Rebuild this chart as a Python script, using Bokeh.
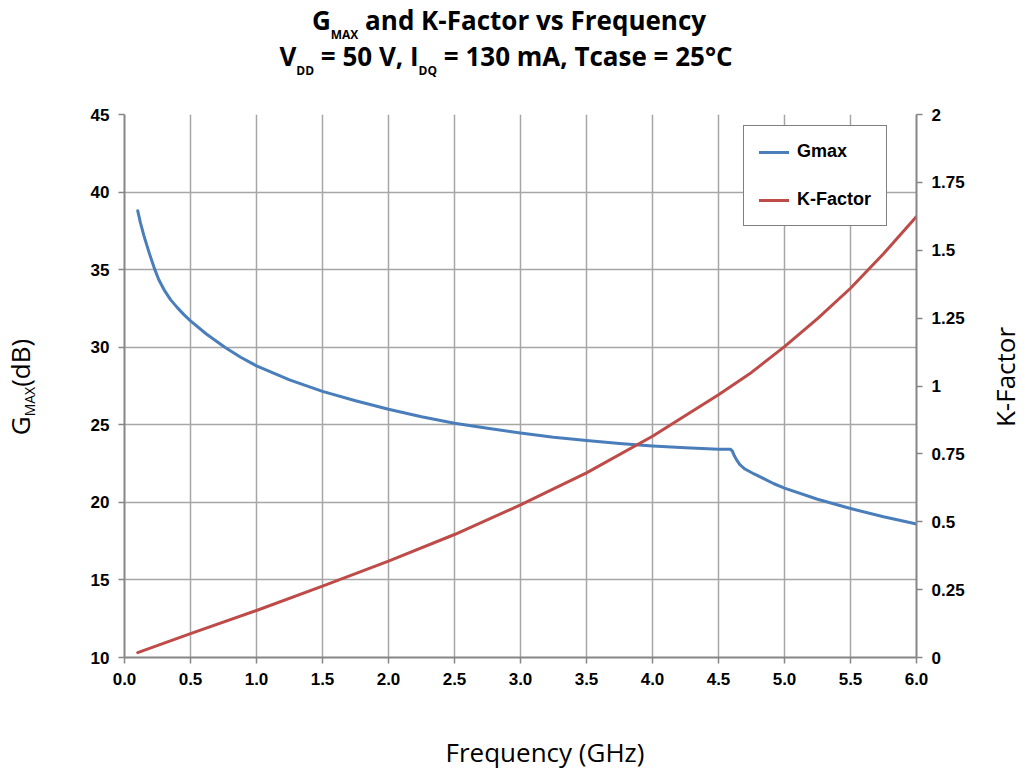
from bokeh.plotting import figure
from bokeh.layouts import column, row
from bokeh.models import (Range1d, LinearAxis, FixedTicker, Legend, LegendItem, Div)
from bokeh.embed import file_html
from bokeh.resources import INLINE

# ---------------- data ----------------
FREQ_G = [0.10, 0.12, 0.15, 0.19, 0.23, 0.26, 0.30, 0.35, 0.40, 0.45, 0.50, 0.62, 0.76,
          0.88, 1.00, 1.25, 1.50, 1.75, 2.00, 2.25, 2.50, 2.75, 3.00, 3.25, 3.50, 3.75,
          4.00, 4.25, 4.50, 4.59, 4.605, 4.62, 4.64, 4.66, 4.70, 4.77, 4.85, 4.92, 5.00,
          5.25, 5.50, 5.75, 6.00]
GMAX = [38.8, 38.05, 37.1, 36.0, 35.0, 34.35, 33.7, 33.05, 32.55, 32.1, 31.7, 30.85, 30.0,
        29.35, 28.8, 27.9, 27.15, 26.55, 26.0, 25.52, 25.1, 24.77, 24.47, 24.2, 23.98, 23.8,
        23.64, 23.52, 23.42, 23.43, 23.3, 23.0, 22.7, 22.45, 22.15, 21.83, 21.5, 21.2, 20.92,
        20.2, 19.6, 19.07, 18.6]

FREQ_K = [0.10, 0.50, 1.00, 1.50, 2.00, 2.50, 3.00, 3.50, 4.00, 4.50, 4.75, 5.00, 5.25,
          5.50, 5.75, 6.00]
KFACT = [0.018, 0.088, 0.173, 0.263, 0.355, 0.453, 0.562, 0.680, 0.815, 0.968, 1.050, 1.145,
         1.248, 1.360, 1.487, 1.624]

X_TICKS = [0.0, 0.5, 1.0, 1.5, 2.0, 2.5, 3.0, 3.5, 4.0, 4.5, 5.0, 5.5, 6.0]
X_TICK_LABELS = ["0.0", "0.5", "1.0", "1.5", "2.0", "2.5", "3.0", "3.5", "4.0", "4.5",
                 "5.0", "5.5", "6.0"]
G_TICKS = [10, 15, 20, 25, 30, 35, 40, 45]
K_TICKS = [0, 0.25, 0.5, 0.75, 1.0, 1.25, 1.5, 1.75, 2.0]
K_TICK_LABELS = ["0", "0.25", "0.5", "0.75", "1", "1.25", "1.5", "1.75", "2"]

SERIES_NAMES = ["Gmax", "K-Factor"]

# ---------------- layout sizes ----------------
TOTAL_W, TOTAL_H = 1016, 766
TITLE_H = 90
LEFT_W, RIGHT_W = 40, 30
BL, BR, BT, BB = 84, 70, 24, 40          # plot borders
FRAME_W, FRAME_H = 792, 543
PLOT_W = BL + FRAME_W + BR
PLOT_H = BT + FRAME_H + BB
XLAB_H = TOTAL_H - TITLE_H - PLOT_H

BLUE = "#4a7ebb"
RED = "#be4b48"
GRID = "#a6a6a6"
AXIS = "#868686"
TICK_FONT = "Liberation Sans"
TEXT_FONT = "'Open Sans'"

p = figure(frame_width=FRAME_W, frame_height=FRAME_H,
           min_border_left=BL, min_border_right=BR, min_border_top=BT, min_border_bottom=BB,
           x_range=Range1d(0, 6), y_range=Range1d(10, 45),
           output_backend="svg", toolbar_location=None, tools="", margin=0)
p.outline_line_color = None
p.background_fill_color = "white"
p.border_fill_color = "white"
p.extra_y_ranges = {"k": Range1d(0, 2)}

def style_axis(ax):
    ax.axis_line_color = AXIS
    ax.axis_line_width = 2
    ax.major_tick_line_color = AXIS
    ax.major_tick_line_width = 1.5
    ax.major_tick_out = 6
    ax.major_tick_in = 0
    ax.minor_tick_line_color = None
    ax.major_label_text_font = TICK_FONT
    ax.major_label_text_font_style = "bold"
    ax.major_label_text_font_size = "17px"
    ax.major_label_text_color = "black"
    ax.major_label_standoff = 9

xa = p.xaxis[0]
xa.ticker = FixedTicker(ticks=X_TICKS)
xa.major_label_overrides = {t: l for t, l in zip(X_TICKS, X_TICK_LABELS)}
style_axis(xa)

ya = p.yaxis[0]
ya.ticker = FixedTicker(ticks=G_TICKS)
style_axis(ya)

ra = LinearAxis(y_range_name="k", ticker=FixedTicker(ticks=K_TICKS))
ra.major_label_overrides = {t: l for t, l in zip(K_TICKS, K_TICK_LABELS)}
style_axis(ra)
p.add_layout(ra, "right")

p.xgrid.ticker = FixedTicker(ticks=X_TICKS)
p.ygrid.ticker = FixedTicker(ticks=G_TICKS)
for g in (p.xgrid[0], p.ygrid[0]):
    g.grid_line_color = GRID
    g.grid_line_width = 1.5

r1 = p.line(FREQ_G, GMAX, line_color=BLUE, line_width=3, line_join="round", line_cap="round")
r2 = p.line(FREQ_K, KFACT, y_range_name="k", line_color=RED, line_width=3,
            line_join="round", line_cap="round")

legend = Legend(items=[LegendItem(label=SERIES_NAMES[0], renderers=[r1]),
                       LegendItem(label=SERIES_NAMES[1], renderers=[r2])],
                location=(619, 431), margin=0, padding=15, spacing=27,
                label_height=20, glyph_height=20, glyph_width=30, label_standoff=8,
                label_text_font=TICK_FONT, label_text_font_style="bold",
                label_text_font_size="18px", label_text_color="black",
                border_line_color="black", border_line_width=1.5,
                background_fill_color="white", background_fill_alpha=1.0)
p.add_layout(legend)

# ---------------- text panels (HTML, with real subscripts) ----------------
def sub(txt, size, shift):
    return (f'<span style="font-size:{size}px;position:relative;top:{shift}px;">{txt}</span>')

def abs_box(inner, left, top, size, weight, transform):
    return (f'<div style="position:absolute;left:{left}px;top:{top}px;'
            f'font-family:{TEXT_FONT};font-size:{size}px;font-weight:{weight};'
            f'line-height:{size}px;color:black;white-space:nowrap;'
            f'transform:{transform};">{inner}</div>')

def panel(width, height, content):
    html = (f'<div style="position:relative;width:{width}px;height:{height}px;'
            f'overflow:visible;">{content}</div>')
    return Div(text=html, width=width, height=height, margin=0,
               styles={"overflow": "visible"})

TS = 26                      # title font size
BASE = 23.1                  # baseline offset inside a 26px line box (Open Sans)
title_line1 = "G" + sub("MAX", 12, 9) + " and K-Factor vs Frequency"
title_line2 = ("V" + sub("DD", 12, 9) + " = 50 V, I" + sub("DQ", 12, 9)
               + " = 130 mA, Tcase = 25°C")
title_div = panel(TOTAL_W, TITLE_H,
                  abs_box(title_line1, 509, 30 - BASE, TS, "bold", "translateX(-50%)")
                  + abs_box(title_line2, 506, 66.5 - BASE, TS, "bold", "translateX(-50%)"))

AS = 26                      # axis title font size
ylab = "G" + sub("MAX", 14, 5) + "(dB)"
left_div = panel(LEFT_W, PLOT_H,
                 abs_box(ylab, 21.9, 387 - TITLE_H, AS, "normal",
                         "translate(-50%,-50%) rotate(-90deg)"))
right_div = panel(RIGHT_W, PLOT_H,
                  abs_box("K-Factor", 1005 - (LEFT_W + PLOT_W), 377 - TITLE_H, AS, "normal",
                          "translate(-50%,-50%) rotate(-90deg)"))
xlab_div = panel(TOTAL_W, XLAB_H,
                 abs_box("Frequency (GHz)", 545, 762 - BASE - (TITLE_H + PLOT_H), AS,
                         "normal", "translateX(-50%)"))

layout = column(title_div, row(left_div, p, right_div, spacing=0), xlab_div, spacing=0)

open("out.html", "w").write(file_html(layout, INLINE))
